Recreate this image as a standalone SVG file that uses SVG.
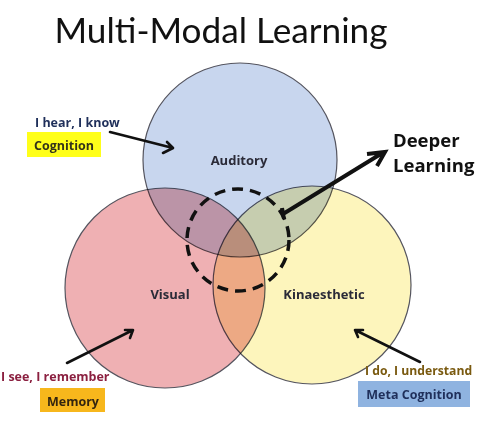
<svg xmlns="http://www.w3.org/2000/svg" width="480" height="424" viewBox="0 0 480 424">
<style>
.c{stroke:#55555f;stroke-width:1.2;mix-blend-mode:multiply}
.t{font-family:"Open Sans",Lato,"Liberation Sans",sans-serif;font-weight:bold}
.lbl{font-size:13px;fill:#2b2b38;text-anchor:middle}
.ar{fill:none;stroke:#111;stroke-width:2.6;stroke-linecap:round;stroke-linejoin:round}
</style>
<rect width="480" height="424" fill="#fff"/>
<text x="221" y="43" font-family="Lato,'Open Sans','Liberation Sans',sans-serif" font-size="35" fill="#111" text-anchor="middle" textLength="333" lengthAdjust="spacingAndGlyphs">Multi-Modal Learning</text>
<g id="circles" style="isolation:isolate">
<g id="auditory"><circle class="c" cx="240" cy="160" r="97" fill="#c8d6ee"/></g>
<g id="visual"><circle class="c" cx="165" cy="288" r="100" fill="#efb0b3"/></g>
<g id="kinaesthetic"><circle class="c" cx="312" cy="285" r="99" fill="#fdf5bc"/></g>
</g>
<g id="core"><circle cx="238" cy="240" r="51" fill="none" stroke="#111" stroke-width="3.5" stroke-dasharray="11 7"/></g>
<g id="labels">
<text class="t lbl" x="239" y="165">Auditory</text>
<text class="t lbl" x="170" y="299">Visual</text>
<text class="t lbl" x="324" y="299">Kinaesthetic</text>
</g>
<g id="connectors">
<path class="ar" d="M110 132L173 148M167 142L173 148L163 153"/>
<path class="ar" d="M67 363L133 330M125 330L133 330L130 338"/>
<path class="ar" d="M420 362L355 330M363 330L355 330L358 337"/>
<path d="M283 214L384 152M367 154L385 152L377 166M282 208L284 219" fill="none" stroke="#111" stroke-width="4" stroke-linejoin="miter"/>
</g>
<g id="deeper">
<text class="t" x="393" y="147" font-size="18.5" fill="#111">Deeper</text>
<text class="t" x="393" y="172" font-size="18.5" fill="#111">Learning</text>
</g>
<g id="cognition">
<text class="t" x="35" y="127" font-size="12.5" fill="#1f2f5a">I hear, I know</text>
<rect x="27" y="132" width="74" height="25" fill="#ffff1a"/>
<text class="t" x="64" y="150" font-size="12.5" fill="#33331a" text-anchor="middle">Cognition</text>
</g>
<g id="memory">
<text class="t" x="1" y="381" font-size="12.5" fill="#8b2040">I see, I remember</text>
<rect x="40" y="388" width="65" height="24" fill="#f7b71c"/>
<text class="t" x="73" y="406" font-size="12.5" fill="#33250f" text-anchor="middle">Memory</text>
</g>
<g id="metacognition">
<text class="t" x="365" y="375" font-size="12.2" fill="#7a5a10">I do, I understand</text>
<rect x="358" y="381" width="112" height="26" fill="#8fb3e0"/>
<text class="t" x="414" y="399" font-size="12.5" fill="#1f2f5a" text-anchor="middle">Meta Cognition</text>
</g>
</svg>
